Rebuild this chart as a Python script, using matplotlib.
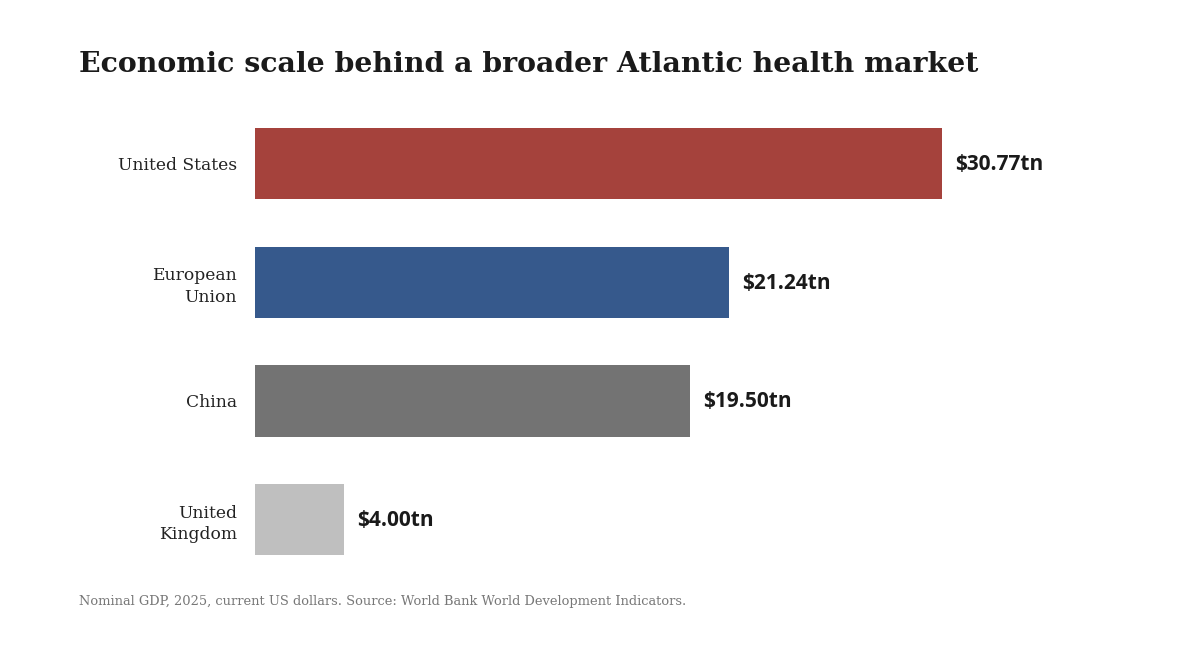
import matplotlib
matplotlib.use("Agg")
import matplotlib.pyplot as plt

categories = ["United States", "European\nUnion", "China", "United\nKingdom"]
values = [30.77, 21.24, 19.50, 4.00]
value_labels = ["$30.77tn", "$21.24tn", "$19.50tn", "$4.00tn"]
colors = ["#a5423c", "#36598c", "#737373", "#bfbfbf"]

W, H = 1200, 650
fig = plt.figure(figsize=(12, 6.5), dpi=100)
fig.patch.set_facecolor("white")

ax_left = 255 / W
ax_width = 687 / W
ax_top = 104
ax_bottom = 579
ax = fig.add_axes([ax_left, 1 - ax_bottom / H, ax_width, (ax_bottom - ax_top) / H])

ypos = list(range(len(categories)))
ax.barh(ypos, values, height=0.6, color=colors)
ax.set_xlim(0, 30.77)
ax.set_ylim(len(categories) - 0.5, -0.5)

for y, v, lab in zip(ypos, values, value_labels):
    ax.annotate(lab, (v, y), xytext=(13, -1), textcoords="offset pixels",
                ha="left", va="center", fontsize=15, fontweight="bold",
                family="Open Sans", color="#1a1a1a", annotation_clip=False)

ax.set_yticks(ypos)
ax.set_yticklabels(categories, family="DejaVu Serif", fontsize=12.3, color="#222222",
                   linespacing=1.35)
ax.tick_params(axis="y", length=0, pad=13)
for lbl in ax.get_yticklabels():
    lbl.set_horizontalalignment("right")
ax.set_xticks([])
for s in ax.spines.values():
    s.set_visible(False)

fig.text(79 / W, 1 - 65 / H, "Economic scale behind a broader Atlantic health market",
         family="DejaVu Serif", fontweight="bold", fontsize=20.4, color="#1a1a1a",
         ha="left", va="center")
fig.text(79 / W, 1 - 601 / H,
         "Nominal GDP, 2025, current US dollars. Source: World Bank World Development Indicators.",
         family="DejaVu Serif", fontsize=9.38, color="#777777", ha="left", va="center")

fig.savefig("out.png", dpi=100, facecolor="white")
